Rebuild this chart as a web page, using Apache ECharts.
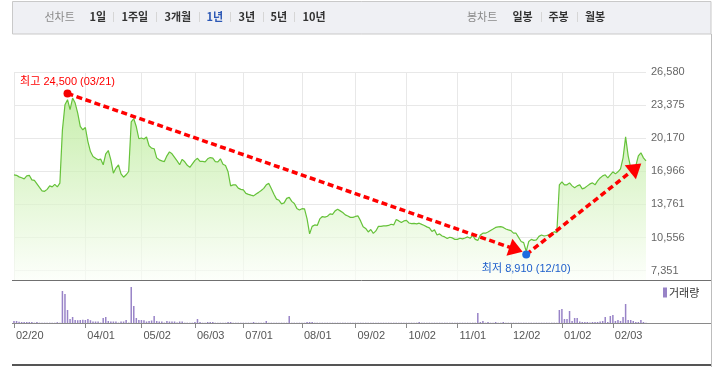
<!DOCTYPE html>
<html>
<head>
<meta charset="utf-8">
<script src="https://cdn.jsdelivr.net/npm/echarts@6/dist/echarts.min.js"></script>
<style>
    html, body { margin: 0; padding: 0; background: #fff; }
    #chart { width: 713px; height: 367px; }
</style>
</head>
<body>
<div id="chart"></div>
<script>
    // 거래일 (월별)
    const tradingDays = [
        ['2019-02', [20, 21, 22, 25, 26, 27, 28]],
        ['2019-03', [1, 4, 5, 6, 7, 8, 11, 12, 13, 14, 15, 18, 19, 20, 21, 22, 25, 26, 27, 28, 29]],
        ['2019-04', [1, 2, 3, 4, 5, 8, 9, 10, 11, 12, 15, 16, 17, 18, 19, 22, 23, 24, 25, 26, 29, 30]],
        ['2019-05', [2, 3, 7, 8, 9, 10, 13, 14, 15, 16, 17, 20, 21, 22, 23, 24, 27, 28, 29, 30, 31]],
        ['2019-06', [3, 4, 5, 7, 10, 11, 12, 13, 14, 17, 18, 19, 20, 21, 24, 25, 26, 27, 28]],
        ['2019-07', [1, 2, 3, 4, 5, 8, 9, 10, 11, 12, 15, 16, 17, 18, 19, 22, 23, 24, 25, 26, 29, 30, 31]],
        ['2019-08', [1, 2, 5, 6, 7, 8, 9, 12, 13, 14, 16, 19, 20, 21, 22, 23, 26, 27, 28, 29, 30]],
        ['2019-09', [2, 3, 4, 5, 6, 9, 10, 11, 16, 17, 18, 19, 20, 23, 24, 25, 26, 27, 30]],
        ['2019-10', [1, 2, 4, 7, 8, 10, 11, 14, 15, 16, 17, 18, 21, 22, 23, 24, 25, 28, 29, 30, 31]],
        ['2019-11', [1, 4, 5, 6, 7, 8, 11, 12, 13, 14, 15, 18, 19, 20, 21, 22, 25, 26, 27, 28, 29]],
        ['2019-12', [2, 3, 4, 5, 6, 9, 10, 11, 12, 13, 16, 17, 18, 19, 20, 23, 24, 26, 27, 30]],
        ['2020-01', [2, 3, 6, 7, 8, 9, 10, 13, 14, 15, 16, 17, 20, 21, 22, 23, 28, 29, 30, 31]],
        ['2020-02', [3, 4, 5, 6, 7, 10, 11, 12, 13, 14, 17, 18, 19, 20]]
    ];

    const tickDates = ['2019-02-20', '2019-04-01', '2019-05-02', '2019-06-03', '2019-07-01', '2019-08-01',
        '2019-09-02', '2019-10-02', '2019-11-01', '2019-12-02', '2020-01-02', '2020-02-03'];

    const priceTicks = [7351, 10556, 13761, 16966, 20170, 23375, 26580];

    // 종가
    const closePrices = [
        16630, 16580, 16430, 16340, 16240, 16530, 16580, 16140, 16090, 15750,
        15410, 15080, 15030, 15220, 15560, 15460, 15710, 15460, 15820, 20980,
        23410, 23900, 22930, 24060, 23570, 22600, 21310, 20990, 21210, 19850,
        18880, 18400, 18240, 18080, 18150, 17600, 18660, 18980, 18080, 16790,
        17280, 17600, 16720, 16400, 16630, 16950, 21760, 22060, 21280, 20120,
        20190, 20090, 20290, 19440, 19210, 19150, 18270, 18080, 17980, 17910,
        18470, 18850, 18660, 18320, 17980, 17600, 18130, 17890, 17550, 17350,
        17690, 18030, 18230, 17930, 17930, 17890, 18180, 18300, 18240, 17910,
        17890, 18180, 17650, 17530, 16920, 15560, 15660, 15660, 15340, 15220,
        15170, 14830, 14740, 14660, 14590, 14780, 14930, 15120, 15320, 15660,
        15800, 15270, 14740, 14280, 14160, 13820, 13910, 14350, 14450, 14060,
        13860, 13380, 13230, 13350, 13330, 12360, 10910, 11640, 11780, 11730,
        12360, 12590, 12530, 12620, 12850, 12800, 13140, 13290, 13140, 12980,
        12750, 12650, 12510, 12510, 12600, 12650, 12170, 11610, 11440, 11100,
        11340, 10960, 11200, 11640, 11640, 11680, 11680, 11730, 11850, 11780,
        12310, 12170, 12020, 12170, 12220, 11970, 11900, 11930, 11880, 11950,
        11830, 11730, 11590, 11490, 11150, 11300, 10810, 10910, 10710, 10620,
        10470, 10590, 10520, 10380, 10380, 10490, 10430, 10520, 10620, 10490,
        10760, 10380, 10280, 10810, 10980, 10980, 11100, 11250, 11390, 11540,
        11590, 11620, 11540, 11390, 11300, 11230, 10980, 10980, 10570, 10180,
        10070, 9210, 10180, 10380, 10280, 10330, 10670, 10810, 10710, 10760,
        10860, 10980, 11130, 11030, 15660, 15950, 15660, 15660, 15850, 15560,
        15370, 15560, 15660, 15270, 15370, 15560, 15750, 15850, 15660, 16040,
        16330, 16530, 16630, 16330, 16630, 16920, 16720, 16920, 17210, 18270,
        20300, 18470, 17300, 17010, 17500, 18470, 18760, 18270, 17980
    ];

    // 거래량 (천주)
    const volumes = [
        200, 200, 130, 100, 100, 100, 100, 100, 30, 100,
        30, 30, 30, 30, 30, 30, 30, 80, 30, 3200,
        2900, 1300, 400, 600, 300, 280, 300, 330, 300, 400,
        280, 150, 150, 150, 40, 500, 600, 200, 150, 150,
        150, 40, 150, 150, 300, 40, 3600, 1700, 500, 300,
        300, 280, 150, 200, 250, 700, 200, 150, 150, 40,
        200, 150, 150, 150, 40, 150, 150, 30, 30, 30,
        30, 100, 400, 100, 30, 30, 100, 100, 100, 30,
        30, 30, 30, 30, 100, 100, 30, 30, 30, 30,
        30, 30, 30, 30, 100, 30, 30, 30, 30, 200,
        30, 30, 30, 30, 30, 30, 30, 30, 700, 30,
        30, 30, 30, 30, 30, 100, 100, 100, 30, 30,
        30, 30, 30, 30, 30, 30, 30, 30, 30, 30,
        30, 30, 30, 30, 30, 30, 30, 30, 30, 30,
        30, 30, 30, 30, 30, 30, 30, 30, 30, 30,
        30, 30, 30, 30, 30, 30, 30, 30, 30, 100,
        30, 30, 30, 30, 30, 30, 30, 30, 30, 30,
        30, 30, 30, 30, 30, 30, 30, 30, 30, 30,
        30, 30, 1000, 100, 200, 30, 100, 30, 30, 100,
        30, 30, 100, 30, 30, 30, 30, 30, 30, 30,
        30, 30, 30, 30, 30, 30, 30, 30, 30, 30,
        30, 30, 30, 30, 1300, 1400, 400, 400, 1200, 200,
        500, 500, 150, 100, 100, 100, 50, 100, 100, 100,
        150, 200, 600, 100, 700, 800, 200, 300, 200, 600,
        1900, 300, 300, 200, 100, 100, 300, 100, 30
    ];

    const highPoint = ['2019-03-21', 24500];
    const lowPoint = ['2019-12-10', 8910];
    const trendDown = [['2019-03-21', 24500], ['2019-12-04', 9400]];
    const trendUp = [['2019-12-10', 8910], ['2020-02-14', 17300]];

    const lineTabs = ['1일', '1주일', '3개월', '1년', '3년', '5년', '10년'];
    const candleTabs = ['일봉', '주봉', '월봉'];

    const dates = [];
    tradingDays.forEach(([ym, days]) => {
        days.forEach(d => dates.push(ym + '-' + String(d).padStart(2, '0')));
    });

    const mmdd = (v) => v.slice(5).replace('-', '/');
    const isTick = (idx, val) => tickDates.indexOf(val) >= 0;
    const num = (v) => v.toLocaleString('en-US');

    const latinFont = "'Liberation Sans', 'Noto Sans CJK KR', sans-serif";
    const krFont = "'Noto Sans CJK KR', sans-serif";

    // 상단 탭 영역
    const lineTabX = [89.5, 121.5, 164.5, 206.5, 238.5, 270.5, 302.5];
    const lineSepX = [113.5, 156.5, 199.5, 230.5, 263.5, 294.5];
    const candleTabX = [512.5, 548.5, 585];
    const candleSepX = [541.5, 577.5];

    const graphics = [
        {
            type: 'rect', z: 100,
            shape: { x: 12.5, y: 1.5, width: 698.5, height: 32.5 },
            style: { fill: '#eff0f4', stroke: '#c9c9c9', lineWidth: 1 }
        },
        {
            type: 'text', z: 101, x: 44.5, y: 17,
            style: { text: '선차트', fill: '#8a8a8a', font: '11px ' + krFont, verticalAlign: 'middle' }
        },
        {
            type: 'text', z: 101, x: 467, y: 17,
            style: { text: '봉차트', fill: '#8a8a8a', font: '11px ' + krFont, verticalAlign: 'middle' }
        }
    ];
    lineTabs.forEach((t, i) => {
        graphics.push({
            type: 'text', z: 101, x: lineTabX[i], y: 17,
            style: {
                text: t, fill: t === '1년' ? '#2c58b5' : '#333',
                font: 'bold 11px ' + krFont, verticalAlign: 'middle'
            }
        });
    });
    candleTabs.forEach((t, i) => {
        graphics.push({
            type: 'text', z: 101, x: candleTabX[i], y: 17,
            style: { text: t, fill: '#333', font: 'bold 11px ' + krFont, verticalAlign: 'middle' }
        });
    });
    lineSepX.concat(candleSepX).forEach(x => {
        graphics.push({
            type: 'line', z: 101,
            shape: { x1: x, y1: 12, x2: x, y2: 22 },
            style: { stroke: '#d6d6d6', lineWidth: 1 }
        });
    });
    // 테두리
    graphics.push(
        { type: 'line', z: 100, shape: { x1: 711.5, y1: 34, x2: 711.5, y2: 367 }, style: { stroke: '#bdbdbd', lineWidth: 1 } },
        { type: 'line', z: 100, shape: { x1: 12, y1: 280.5, x2: 711, y2: 280.5 }, style: { stroke: '#707070', lineWidth: 1 } },
        { type: 'line', z: 100, shape: { x1: 12, y1: 323.5, x2: 711, y2: 323.5 }, style: { stroke: '#8a8a8a', lineWidth: 1 } },
        { type: 'line', z: 100, shape: { x1: 12, y1: 365, x2: 711, y2: 365 }, style: { stroke: '#555', lineWidth: 2 } }
    );

    const myChart = echarts.init(document.getElementById('chart'));
    const options = {
        animation: false,
        graphic: graphics,
        legend: {
            data: ['거래량'],
            left: 663,
            top: 287,
            padding: 0,
            icon: 'rect',
            itemWidth: 4,
            itemHeight: 10,
            textStyle: { fontSize: 11, color: '#333', fontFamily: krFont, padding: [0, 0, 0, -3] }
        },
        grid: [
            { left: 14, right: 67, top: 72, height: 208 },
            { left: 14, right: 67, top: 283, height: 40 }
        ],
        xAxis: [
            {
                type: 'category', gridIndex: 0, data: dates, boundaryGap: false,
                axisLine: { show: false },
                axisTick: { show: false },
                axisLabel: { show: false },
                splitLine: { show: true, interval: isTick, lineStyle: { color: '#e8e8e8' } }
            },
            {
                type: 'category', gridIndex: 1, data: dates, boundaryGap: false,
                axisLine: { show: true, lineStyle: { color: '#8a8a8a' } },
                axisTick: { show: true, interval: isTick, length: 5, lineStyle: { color: '#8a8a8a' } },
                axisLabel: {
                    interval: isTick, formatter: mmdd, align: 'left', margin: 7,
                    padding: [0, 0, 0, 2], color: '#555', fontSize: 11, fontFamily: latinFont
                },
                splitLine: { show: false }
            }
        ],
        yAxis: [
            {
                type: 'value', gridIndex: 0, position: 'right',
                min: 6450, max: 26580,
                axisLine: { show: false },
                axisTick: { show: false, customValues: priceTicks },
                axisLabel: {
                    customValues: priceTicks, formatter: num, margin: 5,
                    color: '#666', fontSize: 11, fontFamily: latinFont
                },
                splitLine: { show: true, lineStyle: { color: '#e8e8e8' } }
            },
            { type: 'value', gridIndex: 1, min: 0, max: 4000, show: false }
        ],
        series: [
            {
                name: '종가', type: 'line', xAxisIndex: 0, yAxisIndex: 0,
                data: closePrices, symbol: 'none', z: 3,
                lineStyle: { color: '#66c23a', width: 1.2 },
                areaStyle: {
                    color: new echarts.graphic.LinearGradient(0, 0, 0, 1, [
                        { offset: 0, color: '#b0e78a' },
                        { offset: 1, color: '#fbfef8' }
                    ])
                },
                markPoint: {
                    symbol: 'circle', symbolSize: 8, silent: true,
                    label: { fontSize: 11, fontFamily: latinFont },
                    data: [
                        {
                            coord: highPoint,
                            itemStyle: { color: '#f50000' },
                            label: {
                                position: 'top', distance: 2, color: '#f00',
                                formatter: '최고 ' + num(highPoint[1]) + ' (' + mmdd(highPoint[0]) + ')'
                            }
                        },
                        {
                            coord: lowPoint,
                            itemStyle: { color: '#1c6be0' },
                            label: {
                                position: 'bottom', distance: 5, color: '#1e5fcc',
                                formatter: '최저 ' + num(lowPoint[1]) + ' (' + mmdd(lowPoint[0]) + ')'
                            }
                        }
                    ]
                },
                markLine: {
                    silent: true,
                    symbol: ['none', 'triangle'],
                    symbolSize: [18, 14],
                    label: { show: false },
                    lineStyle: { color: '#ff0000', width: 3.5, type: [6, 3.5], opacity: 1 },
                    itemStyle: { color: '#ff0000' },
                    emphasis: { disabled: true },
                    data: [
                        [{ coord: trendDown[0] }, { coord: trendDown[1] }],
                        [{ coord: trendUp[0] }, { coord: trendUp[1] }]
                    ]
                }
            },
            {
                name: '거래량', type: 'bar', xAxisIndex: 1, yAxisIndex: 1,
                data: volumes, barWidth: 1.5,
                itemStyle: { color: '#9883c7' }
            }
        ]
    };
    myChart.setOption(options);
    window.addEventListener('resize', myChart.resize);
</script>
</body>
</html>
